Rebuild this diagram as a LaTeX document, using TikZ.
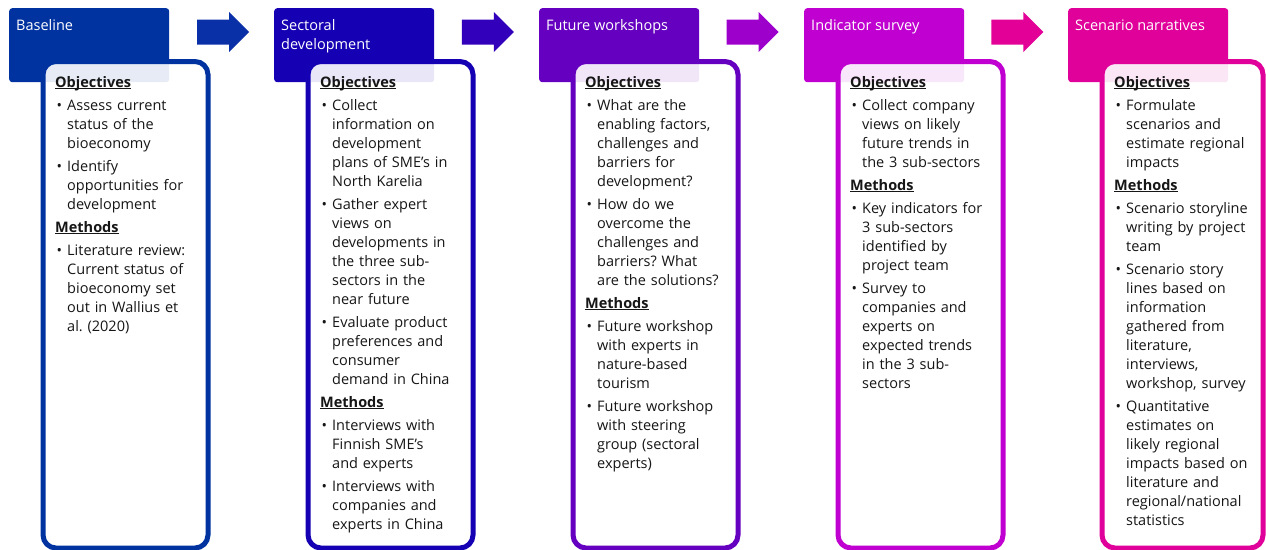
\documentclass[tikz,border=0pt]{standalone}
\usepackage{fontspec}
\setmainfont{Open Sans}

% stage colours
\definecolor{cA}{RGB}{0,51,160}
\definecolor{cB}{RGB}{22,0,180}
\definecolor{cC}{RGB}{102,0,192}
\definecolor{cD}{RGB}{192,0,208}
\definecolor{cE}{RGB}{224,0,154}
% arrow colours
\definecolor{aA}{RGB}{10,48,168}
\definecolor{aB}{RGB}{50,0,186}
\definecolor{aC}{RGB}{158,0,204}
\definecolor{aD}{RGB}{226,0,150}
\definecolor{ink}{RGB}{22,22,22}

% underlined bold heading inside a panel
\newcommand{\ulhd}[1]{\setbox0\hbox{\bfseries #1}\noindent\rule{0pt}{12pt}\rlap{\rule[-1.6pt]{\wd0}{0.9pt}}\box0\par}
% bullet item with hanging indent; \\ breaks the line inside the same paragraph
\newcommand{\itm}[1]{{\let\\\newline\hangindent=12pt\hangafter=1\noindent\makebox[12pt][l]{\hspace{1.5pt}•}#1\par}}

\begin{document}
\begin{tikzpicture}[x=1pt,y=-1pt,
  hdr/.style={anchor=north west, rectangle, rounded corners=3pt, draw=none,
    minimum width=160pt, minimum height=74pt, inner sep=0pt},
  hdrtxt/.style={anchor=north west, inner sep=0pt, text=white, align=left,
    font=\fontsize{14.5}{19}\selectfont},
  panel/.style={anchor=north west, rectangle, rounded corners=13pt, line width=5pt,
    fill=white, fill opacity=0.9, minimum width=165pt, minimum height=486.5pt, inner sep=0pt},
  txt/.style={anchor=north west, inner sep=0pt, text width=150pt, text=ink,
    font=\fontsize{14.5}{19}\selectfont,
    execute at begin node={\setlength{\parskip}{4pt}\raggedright\frenchspacing}},
  blockarrow/.pic={\fill (-26,-12.5) -- (6,-12.5) -- (6,-20) -- (26,0) -- (6,20) -- (6,12.5) -- (-26,12.5) -- cycle;}
]
\useasboundingbox (0,0) rectangle (1266,549);

% ---- Baseline
\node[hdr, fill=cA] (h1) at (9,8) {};
\node[hdrtxt] (t1) at (16,18) {\rule{0pt}{12pt}Baseline};
\node[panel, draw=cA] (b1) at (40.5,59) {};
\node[txt] (x1) at (55,75) {%
\ulhd{Objectives}
\itm{Assess current\\status of the\\bioeconomy}
\itm{Identify\\opportunities for\\development}
\ulhd{Methods}
\itm{Literature review:\\Current status of\\bioeconomy set\\out in Wallius et\\al. (2020)}};

% ---- Sectoral development
\node[hdr, fill=cB] (h2) at (274,8) {};
\node[hdrtxt] (t2) at (281,18) {\rule{0pt}{12pt}Sectoral\\development};
\node[panel, draw=cB] (b2) at (305.5,59) {};
\node[txt] (x2) at (320,75) {%
\ulhd{Objectives}
\itm{Collect\\information on\\development\\plans of SME’s in\\North Karelia}
\itm{Gather expert\\views on\\developments in\\the three sub-\\sectors in the\\near future}
\itm{Evaluate product\\preferences and\\consumer\\demand in China}
\ulhd{Methods}
\itm{Interviews with\\Finnish SME’s\\and experts}
\itm{Interviews with\\companies and\\experts in China}};

% ---- Future workshops
\node[hdr, fill=cC] (h3) at (539,8) {};
\node[hdrtxt] (t3) at (546,18) {\rule{0pt}{12pt}Future workshops};
\node[panel, draw=cC] (b3) at (570.5,59) {};
\node[txt] (x3) at (585,75) {%
\ulhd{Objectives}
\itm{What are the\\enabling factors,\\challenges and\\barriers for\\development?}
\itm{How do we\\overcome the\\challenges and\\barriers? What\\are the solutions?}
\ulhd{Methods}
\itm{Future workshop\\with experts in\\nature-based\\tourism}
\itm{Future workshop\\with steering\\group (sectoral\\experts)}};

% ---- Indicator survey
\node[hdr, fill=cD] (h4) at (804,8) {};
\node[hdrtxt] (t4) at (811,18) {\rule{0pt}{12pt}Indicator survey};
\node[panel, draw=cD] (b4) at (835.5,59) {};
\node[txt] (x4) at (850,75) {%
\ulhd{Objectives}
\itm{Collect company\\views on likely\\future trends in\\the 3 sub-sectors}
\ulhd{Methods}
\itm{Key indicators for\\3 sub-sectors\\identified by\\project team}
\itm{Survey to\\companies and\\experts on\\expected trends\\in the 3 sub-\\sectors}};

% ---- Scenario narratives
\node[hdr, fill=cE] (h5) at (1068,8) {};
\node[hdrtxt] (t5) at (1075,18) {\rule{0pt}{12pt}Scenario narratives};
\node[panel, draw=cE, minimum width=161pt] (b5) at (1099.5,59) {};
\node[txt] (x5) at (1114,75) {%
\ulhd{Objectives}
\itm{Formulate\\scenarios and\\estimate regional\\impacts}
\ulhd{Methods}
\itm{Scenario storyline\\writing by project\\team}
\itm{Scenario story\\lines based on\\information\\gathered from\\literature,\\interviews,\\workshop, survey}
\itm{Quantitative\\estimates on\\likely regional\\impacts based on\\literature and\\regional/national\\statistics}};

% ---- arrows between the stages
\pic[fill=aA] (a1) at (223,32) {blockarrow};
\pic[fill=aB] (a2) at (487.8,32) {blockarrow};
\pic[fill=aC] (a3) at (752.6,32) {blockarrow};
\pic[fill=aD] (a4) at (1017.4,32) {blockarrow};
\end{tikzpicture}
\end{document}
